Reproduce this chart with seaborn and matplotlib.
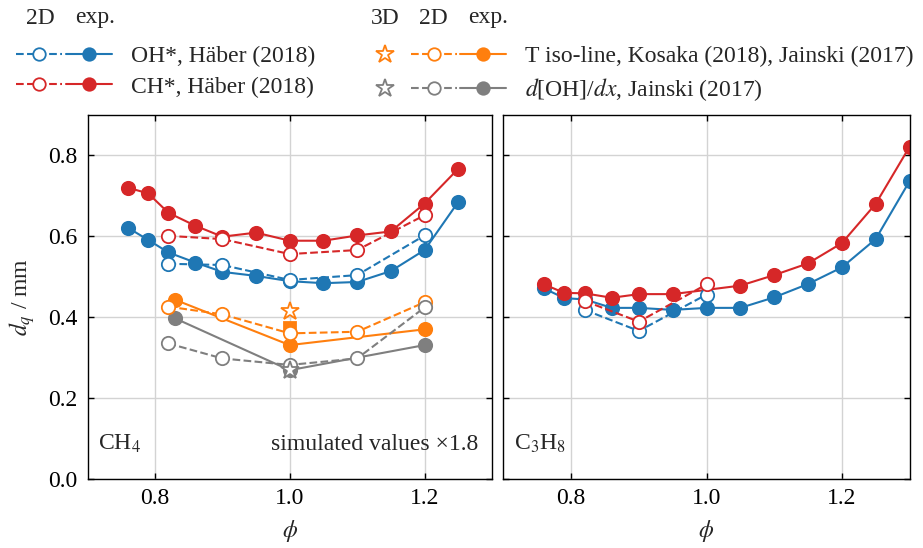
import matplotlib
matplotlib.use("Agg")
import matplotlib.pyplot as plt
import matplotlib.lines as mlines
from matplotlib.legend_handler import HandlerTuple
import seaborn as sns

# ---------------- data ----------------
# CH4 panel
ch4_phi_exp = [0.76, 0.79, 0.82, 0.86, 0.90, 0.95, 1.00, 1.05, 1.10, 1.15, 1.20, 1.25]
ch4_oh_exp = [0.620, 0.590, 0.559, 0.534, 0.511, 0.501, 0.488, 0.483, 0.486, 0.513, 0.565, 0.684]
ch4_ch_exp = [0.719, 0.705, 0.657, 0.625, 0.598, 0.608, 0.588, 0.588, 0.601, 0.611, 0.680, 0.766]
ch4_phi_2d = [0.82, 0.90, 1.00, 1.10, 1.20]
ch4_oh_2d = [0.531, 0.528, 0.491, 0.503, 0.601]
ch4_ch_2d = [0.600, 0.592, 0.555, 0.565, 0.651]
ch4_T_2d = [0.425, 0.406, 0.359, 0.363, 0.436]
ch4_doh_2d = [0.334, 0.297, 0.281, 0.297, 0.423]
ch4_phi_jainski = [0.83, 1.00, 1.20]
ch4_T_exp = [0.442, 0.330, 0.369]
ch4_doh_exp = [0.396, 0.268, 0.330]
kosaka_phi = [1.00]
kosaka_T = [0.372]
ch4_phi_3d = [1.00]
ch4_T_3d = [0.415]
ch4_doh_3d = [0.268]

# C3H8 panel
c3h8_phi_oh_exp = [0.76, 0.79, 0.82, 0.86, 0.90, 0.95, 1.00, 1.05, 1.10, 1.15, 1.20, 1.25, 1.30]
c3h8_oh_exp = [0.470, 0.446, 0.443, 0.422, 0.422, 0.417, 0.422, 0.422, 0.448, 0.481, 0.522, 0.592, 0.735]
c3h8_phi_ch_exp = [0.76, 0.79, 0.82, 0.86, 0.90, 0.95, 1.05, 1.10, 1.15, 1.20, 1.25, 1.30]
c3h8_ch_exp = [0.480, 0.459, 0.458, 0.447, 0.456, 0.456, 0.477, 0.503, 0.532, 0.582, 0.679, 0.820]
c3h8_phi_2d = [0.82, 0.90, 1.00]
c3h8_oh_2d = [0.417, 0.365, 0.455]
c3h8_ch_2d = [0.439, 0.388, 0.480]

x_ticks = [0.8, 1.0, 1.2]
y_ticks = [0.0, 0.2, 0.4, 0.6, 0.8]

labels_left = ["OH*, Häber (2018)", "CH*, Häber (2018)"]
labels_right = ["T iso-line, Kosaka (2018), Jainski (2017)", "$d$[OH]/$dx$, Jainski (2017)"]

BLUE = "#1f77b4"
RED = "#d62728"
ORANGE = "#ff7f0e"
GRAY = "#7f7f7f"

# ---------------- style ----------------
sns.set_theme(style="ticks")
FS = 17
plt.rcParams.update({
    "font.family": ["Liberation Serif", "DejaVu Serif"],
    "mathtext.fontset": "stix",
    "font.size": FS,
    "axes.labelsize": FS,
    "xtick.labelsize": FS,
    "ytick.labelsize": FS,
    "legend.fontsize": FS,
    "xtick.direction": "in",
    "ytick.direction": "in",
    "xtick.top": True,
    "ytick.right": True,
    "xtick.major.size": 4.5,
    "ytick.major.size": 4.5,
    "xtick.major.width": 1.0,
    "ytick.major.width": 1.0,
    "xtick.major.pad": 7,
    "ytick.major.pad": 7,
    "axes.linewidth": 1.0,
    "axes.edgecolor": "black",
    "xtick.color": "black",
    "ytick.color": "black",
    "axes.grid": True,
    "grid.color": "#d3d3d3",
    "grid.linewidth": 1.0,
})

fig = plt.figure(figsize=(9.23, 5.48), dpi=100)
ax1 = fig.add_axes([87.5 / 923, 1 - 478.6 / 548, 404.5 / 923, (478.6 - 114.5) / 548])
ax2 = fig.add_axes([503.5 / 923, 1 - 478.6 / 548, 406 / 923, (478.6 - 114.5) / 548], sharey=ax1)

MS = 9.6
LW = 1.5
MEW = 1.3
STAR = 13.5


def series(ax, x, y, color, filled, ls):
    sns.lineplot(x=x, y=y, ax=ax, color=color, marker="o", markersize=MS,
                 markerfacecolor=color if filled else "white",
                 markeredgecolor=color, markeredgewidth=MEW,
                 linestyle=ls, linewidth=LW, legend=False, sort=False,
                 errorbar=None)


def single(ax, x, y, color, marker, ms, filled):
    sns.lineplot(x=x, y=y, ax=ax, color=color, marker=marker, markersize=ms,
                 markerfacecolor=color if filled else "white",
                 markeredgecolor=color, markeredgewidth=MEW,
                 linestyle="none", legend=False, errorbar=None)


# left panel (CH4)
series(ax1, ch4_phi_exp, ch4_oh_exp, BLUE, True, "-")
series(ax1, ch4_phi_exp, ch4_ch_exp, RED, True, "-")
series(ax1, ch4_phi_2d, ch4_oh_2d, BLUE, False, "--")
series(ax1, ch4_phi_2d, ch4_ch_2d, RED, False, "--")
series(ax1, ch4_phi_jainski, ch4_T_exp, ORANGE, True, "-")
series(ax1, ch4_phi_jainski, ch4_doh_exp, GRAY, True, "-")
single(ax1, kosaka_phi, kosaka_T, ORANGE, "s", 9, True)
series(ax1, ch4_phi_2d, ch4_T_2d, ORANGE, False, "--")
series(ax1, ch4_phi_2d, ch4_doh_2d, GRAY, False, "--")
single(ax1, ch4_phi_3d, ch4_T_3d, ORANGE, "*", STAR, False)
single(ax1, ch4_phi_3d, ch4_doh_3d, GRAY, "*", STAR, False)

# right panel (C3H8)
series(ax2, c3h8_phi_oh_exp, c3h8_oh_exp, BLUE, True, "-")
series(ax2, c3h8_phi_ch_exp, c3h8_ch_exp, RED, True, "-")
series(ax2, c3h8_phi_2d, c3h8_oh_2d, BLUE, False, "--")
series(ax2, c3h8_phi_2d, c3h8_ch_2d, RED, False, "--")

for ax in (ax1, ax2):
    ax.set_xlim(0.7, 1.3)
    ax.set_ylim(0.0, 0.9)
    ax.set_xticks(x_ticks)
    ax.set_yticks(y_ticks)
    ax.set_xticklabels([f"{v:.1f}" for v in x_ticks])
    ax.set_xlabel(r"$\phi$", labelpad=6)
    ax.minorticks_off()
    ax.tick_params(which="both", direction="in", top=True, right=True)
    for s in ax.spines.values():
        s.set_color("black")
    ax.set_axisbelow(True)

ax1.set_yticklabels([f"{v:.1f}" for v in y_ticks])
ax1.set_ylabel(r"$d_q$ / mm", labelpad=8)
ax2.tick_params(labelleft=False)
ax2.set_ylabel("")

ax1.text(0.025, 0.065, r"CH$_4$", transform=ax1.transAxes, ha="left", va="bottom")
ax1.text(0.966, 0.065, "simulated values ×1.8", transform=ax1.transAxes, ha="right", va="bottom")
ax2.text(0.025, 0.065, r"C$_3$H$_8$", transform=ax2.transAxes, ha="left", va="bottom")


# ---------------- legends ----------------
def h(color, marker="o", filled=True, ls="-", ms=MS):
    return mlines.Line2D([], [], color=color, marker=marker, markersize=ms,
                         markerfacecolor=color if filled else "white",
                         markeredgecolor=color, markeredgewidth=MEW,
                         linestyle=ls, linewidth=LW)


left_handles = [(h(BLUE, filled=False, ls="--", ms=9), h(BLUE, ms=9)),
                (h(RED, filled=False, ls="--", ms=9), h(RED, ms=9))]
right_handles = [(h(ORANGE, marker="*", filled=False, ls="none", ms=STAR),
                  h(ORANGE, filled=False, ls="--", ms=9), h(ORANGE, ms=9)),
                 (h(GRAY, marker="*", filled=False, ls="none", ms=STAR),
                  h(GRAY, filled=False, ls="--", ms=9), h(GRAY, ms=9))]

common = dict(loc="upper left", frameon=False, borderpad=0, borderaxespad=0,
              handletextpad=0.8, labelspacing=0.36)
leg1 = fig.legend(left_handles, labels_left,
                  handler_map={tuple: HandlerTuple(ndivide=None, pad=0.15)},
                  bbox_to_anchor=(16 / 923, 1 - 46 / 548), handlelength=4.05, **common)
leg2 = fig.legend(right_handles, labels_right,
                  handler_map={tuple: HandlerTuple(ndivide=None, pad=0.15)},
                  bbox_to_anchor=(362 / 923, 1 - 46 / 548), handlelength=6.1, **common)

hy = 1 - 18 / 548
for txt, xp in [("2D", 40), ("exp.", 95), ("3D", 385), ("2D", 433), ("exp.", 488)]:
    fig.text(xp / 923, hy, txt, ha="center", va="center")

fig.savefig("out.png", dpi=100)
